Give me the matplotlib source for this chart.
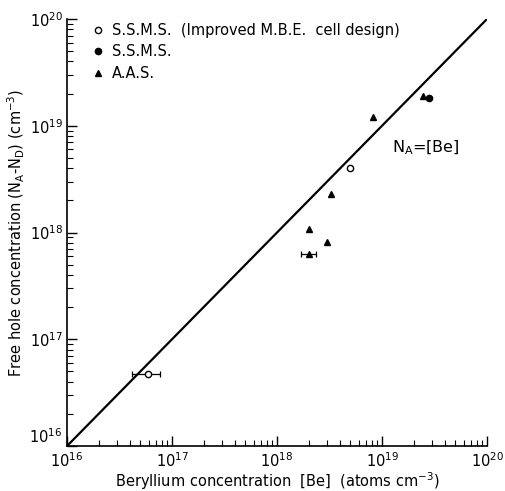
import math

import matplotlib
matplotlib.use("Agg")
import matplotlib.pyplot as plt
from matplotlib.ticker import FuncFormatter

plt.rcParams["font.family"] = ["DejaVu Sans"]

# S.S.M.S. (improved M.B.E. cell design) - open circles
ssms_imp_be = [5.9e16, 4.95e18]
ssms_imp_p = [4.7e16, 4.0e18]
ssms_imp_xerr_lo = [4.2e16, None]
ssms_imp_xerr_hi = [7.7e16, None]

# S.S.M.S. - filled circles
ssms_be = [2.8e19]
ssms_p = [1.82e19]

# A.A.S. - triangles
aas_be = [2.0e18, 2.97e18, 3.24e18, 2.0e18, 8.26e18, 2.46e19]
aas_p = [6.3e17, 8.2e17, 2.28e18, 1.09e18, 1.22e19, 1.9e19]
aas_err_idx = 0
aas_xerr_lo = 1.69e18
aas_xerr_hi = 2.34e18

line_range = [1e16, 1e20]

fig = plt.figure(figsize=(5.05, 4.91), dpi=100)
ax = fig.add_axes([0.1327, 0.0916, 0.8317, 0.8697])
ax.set_xscale("log")
ax.set_yscale("log")
ax.set_xlim(1e16, 1e20)
ax.set_ylim(1e16, 1e20)

ax.plot(line_range, line_range, color="black", lw=1.6, zorder=2)

# error bars
ax.errorbar([ssms_imp_be[0]], [ssms_imp_p[0]],
            xerr=[[ssms_imp_be[0] - ssms_imp_xerr_lo[0]], [ssms_imp_xerr_hi[0] - ssms_imp_be[0]]],
            fmt="none", ecolor="black", elinewidth=0.9, capsize=2.5, capthick=0.9, zorder=3)
ax.errorbar([aas_be[aas_err_idx]], [aas_p[aas_err_idx]],
            xerr=[[aas_be[aas_err_idx] - aas_xerr_lo], [aas_xerr_hi - aas_be[aas_err_idx]]],
            fmt="none", ecolor="black", elinewidth=0.9, capsize=2.5, capthick=0.9, zorder=3)

h1, = ax.plot(ssms_imp_be, ssms_imp_p, "o", ms=4.5, mfc="white", mec="black", mew=1.0,
              ls="none", zorder=4)
h2, = ax.plot(ssms_be, ssms_p, "o", ms=4.5, mfc="black", mec="black", ls="none", zorder=4)
h3, = ax.plot(aas_be, aas_p, "^", ms=5, mfc="black", mec="black", ls="none", zorder=4)

ax.legend([h1, h2, h3],
          ["S.S.M.S.  (Improved M.B.E.  cell design)", "S.S.M.S.", "A.A.S."],
          loc="upper left", bbox_to_anchor=(0.045, 1.005), frameon=False,
          handlelength=0.8, handletextpad=0.6, labelspacing=0.45, fontsize=10.5,
          borderaxespad=0)

ax.text(1.25e19, 6.2e18, r"N$_\mathrm{A}$=[Be]", fontsize=11.5, va="center", ha="left")

for s in ("top", "right"):
    ax.spines[s].set_visible(False)
ax.spines["left"].set_linewidth(1.2)
ax.spines["bottom"].set_linewidth(1.2)
ax.tick_params(which="major", direction="in", length=7, width=1.0, labelsize=10.5)
ax.tick_params(which="minor", direction="in", length=4, width=0.8)
ax.tick_params(axis="x", pad=4)
ax.tick_params(axis="y", pad=3)


def ylab(v, pos):
    # the 10^16 at the origin is written separately, nudged up
    if abs(v - 1e16) < 1e14:
        return ""
    return r"$10^{%d}$" % round(math.log10(v))


ax.yaxis.set_major_formatter(FuncFormatter(ylab))
ax.text(-0.012, 0.0, r"$10^{16}$", transform=ax.transAxes, ha="right", va="bottom",
        fontsize=10.5)

ax.set_xlabel(r"Beryllium concentration  [Be]  (atoms cm$^{-3}$)", fontsize=10.5, labelpad=0)
ax.set_ylabel(r"Free hole concentration (N$_\mathrm{A}$-N$_\mathrm{D}$) (cm$^{-3}$)",
              fontsize=10.5, labelpad=2)

fig.savefig("out.png", dpi=100)
